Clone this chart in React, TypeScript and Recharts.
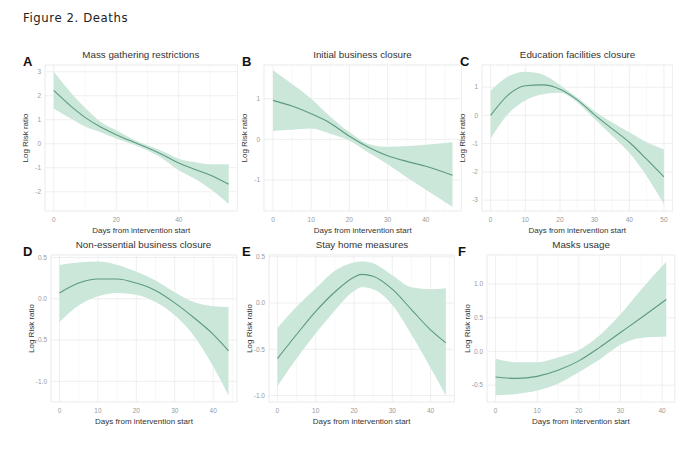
import React from "react"
import {
  ComposedChart,
  Area,
  Line,
  XAxis,
  YAxis,
  CartesianGrid,
} from "recharts"

// Days from intervention start (x) for each panel
const massDays = [0, 5, 10, 15, 20, 25, 30, 35, 40, 45, 50, 56]
const massFit = [2.22, 1.62, 1.1, 0.7, 0.38, 0.1, -0.17, -0.47, -0.8, -1.06, -1.3, -1.69]
const massLow = [1.47, 1.08, 0.72, 0.48, 0.22, -0.01, -0.28, -0.63, -1.1, -1.45, -1.87, -2.51]
const massHigh = [3.0, 2.2, 1.5, 0.92, 0.56, 0.21, -0.06, -0.32, -0.62, -0.76, -0.85, -0.85]

const initDays = [0, 5, 10, 15, 20, 25, 30, 35, 40, 47]
const initFit = [0.96, 0.82, 0.63, 0.4, 0.08, -0.19, -0.4, -0.54, -0.66, -0.88]
const initLow = [0.21, 0.24, 0.27, 0.14, -0.03, -0.32, -0.61, -0.93, -1.24, -1.66]
const initHigh = [1.7, 1.36, 1.0, 0.56, 0.18, -0.11, -0.18, -0.16, -0.13, -0.07]

const eduDays = [0, 5, 10, 15, 20, 25, 30, 35, 40, 45, 50]
const eduFit = [0.0, 0.72, 1.05, 1.08, 0.93, 0.55, 0.02, -0.47, -0.95, -1.55, -2.18]
const eduLow = [-0.82, 0.05, 0.53, 0.75, 0.8, 0.46, -0.13, -0.72, -1.32, -2.15, -3.15]
const eduHigh = [0.88, 1.38, 1.55, 1.45, 1.08, 0.63, 0.15, -0.24, -0.6, -0.95, -1.2]

const nonEssDays = [0, 5, 10, 15, 20, 25, 30, 35, 40, 44]
const nonEssFit = [0.07, 0.19, 0.24, 0.24, 0.19, 0.1, -0.05, -0.23, -0.43, -0.63]
const nonEssLow = [-0.28, -0.08, 0.03, 0.07, 0.05, -0.04, -0.2, -0.45, -0.82, -1.17]
const nonEssHigh = [0.41, 0.44, 0.45, 0.41, 0.33, 0.22, 0.08, -0.04, -0.09, -0.1]

const homeDays = [0, 5, 10, 15, 20, 22, 25, 30, 35, 40, 44]
const homeFit = [-0.6, -0.34, -0.09, 0.12, 0.28, 0.31, 0.29, 0.15, -0.07, -0.29, -0.43]
const homeLow = [-0.9, -0.6, -0.33, -0.08, 0.13, 0.17, 0.15, -0.02, -0.34, -0.7, -1.0]
const homeHigh = [-0.27, -0.04, 0.16, 0.35, 0.44, 0.45, 0.43, 0.3, 0.17, 0.15, 0.16]

const maskDays = [0, 5, 10, 15, 20, 25, 30, 35, 41]
const maskFit = [-0.38, -0.4, -0.37, -0.28, -0.14, 0.06, 0.28, 0.5, 0.77]
const maskLow = [-0.65, -0.63, -0.58, -0.48, -0.31, -0.12, 0.1, 0.2, 0.22]
const maskHigh = [-0.11, -0.16, -0.16, -0.09, 0.02, 0.24, 0.55, 0.92, 1.33]

const figureTitle = "Figure 2. Deaths"
const xTitle = "Days from intervention start"
const yTitle = "Log Risk ratio"

const LINE = "#5b9a7f"
const BAND = "#cbe7da"
const FONT = "'Liberation Sans', Arial, sans-serif"

const YW = 24
const MT = 4
const MR = 4
const XH = 28

interface PanelProps {
  letter: string
  letterLeft: number
  title: string
  days: number[]
  fit: number[]
  low: number[]
  high: number[]
  left: number
  top: number
  width: number
  height: number
  xDomain: [number, number]
  yDomain: [number, number]
  xTicks: number[]
  xMinor: number[]
  yTicks: number[]
  yMinor: number[]
  decimals: number
}

function Panel(p: PanelProps) {
  const rows = p.days.map((d, i) => ({
    day: d,
    fit: p.fit[i],
    band: [p.low[i], p.high[i]],
  }))
  const fmt = (v: number) => (p.decimals ? v.toFixed(p.decimals) : String(v))
  const tickStyle = { fontSize: 6.5, fill: "#9a9a9a", fontFamily: FONT }

  return (
    <>
      <div
        style={{
          position: "absolute",
          left: p.left,
          width: p.width,
          top: p.top - 16,
          textAlign: "center",
          fontSize: 9.8,
          color: "#333",
          fontFamily: FONT,
          lineHeight: "12px",
          whiteSpace: "nowrap",
        }}
      >
        {p.title}
      </div>
      <div
        style={{
          position: "absolute",
          left: p.letterLeft,
          top: p.top - 10,
          fontSize: 13,
          fontWeight: "bold",
          color: "#111",
          fontFamily: FONT,
          lineHeight: "14px",
        }}
      >
        {p.letter}
      </div>
      <div style={{ position: "absolute", left: p.left - YW, top: p.top - MT }}>
        <ComposedChart
          width={YW + p.width + MR}
          height={MT + p.height + XH}
          data={rows}
          margin={{ top: MT, right: MR, left: 0, bottom: 0 }}
        >
          <XAxis xAxisId="minor" dataKey="day" type="number" domain={p.xDomain} ticks={p.xMinor} hide />
          <YAxis yAxisId="minor" type="number" domain={p.yDomain} ticks={p.yMinor} hide />
          <CartesianGrid xAxisId="minor" yAxisId="minor" stroke="#f3f3f3" strokeWidth={0.6} />
          <XAxis
            xAxisId="main"
            dataKey="day"
            type="number"
            domain={p.xDomain}
            ticks={p.xTicks}
            tickFormatter={(v) => String(v)}
            tick={tickStyle}
            tickLine={false}
            axisLine={false}
            tickSize={0}
            tickMargin={6}
            height={XH}
            label={{
              value: xTitle,
              position: "insideBottom",
              offset: 6,
              style: { fontSize: 8, fill: "#333", fontFamily: FONT },
            }}
          />
          <YAxis
            yAxisId="main"
            type="number"
            domain={p.yDomain}
            ticks={p.yTicks}
            tickFormatter={fmt}
            tick={tickStyle}
            tickLine={false}
            axisLine={false}
            tickSize={0}
            tickMargin={4}
            width={YW}
            label={{
              value: yTitle,
              angle: -90,
              position: "insideLeft",
              offset: 4,
              style: { fontSize: 8, fill: "#333", fontFamily: FONT, textAnchor: "middle" },
            }}
          />
          <CartesianGrid xAxisId="main" yAxisId="main" stroke="#ebebeb" strokeWidth={0.8} />
          <Area
            xAxisId="main"
            yAxisId="main"
            type="monotone"
            dataKey="band"
            stroke="none"
            fill={BAND}
            fillOpacity={1}
            isAnimationActive={false}
          />
          <Line
            xAxisId="main"
            yAxisId="main"
            type="monotone"
            dataKey="fit"
            stroke={LINE}
            strokeWidth={1.1}
            dot={false}
            isAnimationActive={false}
          />
        </ComposedChart>
      </div>
    </>
  )
}

export default function App() {
  return (
    <div
      style={{
        position: "absolute",
        left: 0,
        top: 0,
        width: 694,
        height: 450,
        background: "#fff",
        overflow: "hidden",
      }}
    >
      <div
        style={{
          position: "absolute",
          left: 23,
          top: 10,
          fontSize: 13,
          letterSpacing: 0.6,
          color: "#222",
          fontFamily: "'DejaVu Sans Condensed', 'Liberation Sans Narrow', 'Liberation Sans', Arial, sans-serif",
          lineHeight: "16px",
        }}
      >
        {figureTitle}
      </div>

      <Panel
        letter="A"
        letterLeft={23}
        title="Mass gathering restrictions"
        days={massDays}
        fit={massFit}
        low={massLow}
        high={massHigh}
        left={44.6}
        top={65}
        width={192.5}
        height={146}
        xDomain={[-2.8, 58.8]}
        yDomain={[-2.8, 3.28]}
        xTicks={[0, 20, 40]}
        xMinor={[10, 30, 50]}
        yTicks={[-2, -1, 0, 1, 2, 3]}
        yMinor={[-2.5, -1.5, -0.5, 0.5, 1.5, 2.5]}
        decimals={0}
      />
      <Panel
        letter="B"
        letterLeft={242}
        title="Initial business closure"
        days={initDays}
        fit={initFit}
        low={initLow}
        high={initHigh}
        left={263.7}
        top={65}
        width={197.5}
        height={146}
        xDomain={[-2.35, 49.35]}
        yDomain={[-1.76, 1.83]}
        xTicks={[0, 10, 20, 30, 40]}
        xMinor={[5, 15, 25, 35, 45]}
        yTicks={[-1, 0, 1]}
        yMinor={[-1.5, -0.5, 0.5, 1.5]}
        decimals={0}
      />
      <Panel
        letter="C"
        letterLeft={460}
        title="Education facilities closure"
        days={eduDays}
        fit={eduFit}
        low={eduLow}
        high={eduHigh}
        left={482.3}
        top={65}
        width={190.6}
        height={146}
        xDomain={[-2.5, 52.5]}
        yDomain={[-3.385, 1.785]}
        xTicks={[0, 10, 20, 30, 40, 50]}
        xMinor={[5, 15, 25, 35, 45]}
        yTicks={[-3, -2, -1, 0, 1]}
        yMinor={[-2.5, -1.5, -0.5, 0.5, 1.5]}
        decimals={0}
      />
      <Panel
        letter="D"
        letterLeft={23}
        title="Non-essential business closure"
        days={nonEssDays}
        fit={nonEssFit}
        low={nonEssLow}
        high={nonEssHigh}
        left={50.5}
        top={255}
        width={186}
        height={147}
        xDomain={[-2.2, 46.2]}
        yDomain={[-1.25, 0.53]}
        xTicks={[0, 10, 20, 30, 40]}
        xMinor={[5, 15, 25, 35, 45]}
        yTicks={[-1, -0.5, 0, 0.5]}
        yMinor={[-1.25, -0.75, -0.25, 0.25]}
        decimals={1}
      />
      <Panel
        letter="E"
        letterLeft={242}
        title="Stay home measures"
        days={homeDays}
        fit={homeFit}
        low={homeLow}
        high={homeHigh}
        left={269.3}
        top={255}
        width={185.3}
        height={147}
        xDomain={[-2.2, 46.2]}
        yDomain={[-1.07, 0.52]}
        xTicks={[0, 10, 20, 30, 40]}
        xMinor={[5, 15, 25, 35, 45]}
        yTicks={[-1, -0.5, 0, 0.5]}
        yMinor={[-0.75, -0.25, 0.25]}
        decimals={1}
      />
      <Panel
        letter="F"
        letterLeft={458}
        title="Masks usage"
        days={maskDays}
        fit={maskFit}
        low={maskLow}
        high={maskHigh}
        left={487.2}
        top={255}
        width={187.8}
        height={147}
        xDomain={[-2.05, 43.05]}
        yDomain={[-0.75, 1.43]}
        xTicks={[0, 10, 20, 30, 40]}
        xMinor={[5, 15, 25, 35]}
        yTicks={[-0.5, 0, 0.5, 1]}
        yMinor={[-0.25, 0.25, 0.75, 1.25]}
        decimals={1}
      />
    </div>
  )
}
